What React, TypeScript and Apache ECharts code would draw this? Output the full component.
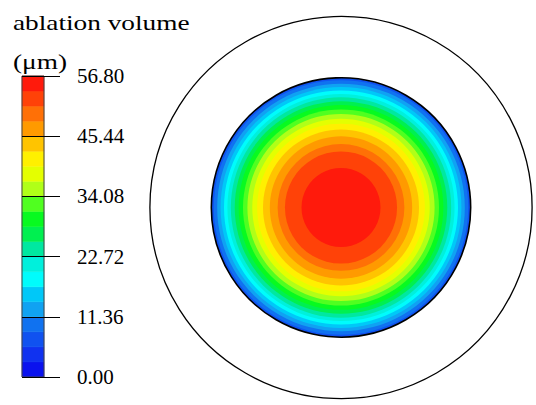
import React, { useEffect, useRef } from "react";
import * as echarts from "echarts";

// Colour scale (20 bands, low -> high)
const bandColors = [
  "#0a12ee", "#1032f0", "#1052f0", "#1072f0", "#10a2f2", "#00c8f8",
  "#00fcfc", "#00f0dc", "#00e8a0", "#00f050", "#08fa20", "#50ff20",
  "#b0ff18", "#e4ff00", "#fff000", "#ffc400", "#ff9a00", "#ff7006",
  "#ff4208", "#ff1a0c",
];
const scaleMin = 0;
const scaleMax = 56.8;
const tickStep = 11.36;
const titleLines = ["ablation volume", "(\u03bcm)"];

// Contour rings: band index and outer radius (disk radius = 133)
const ringBands = [2, 3, 4, 5, 6, 7, 8, 9, 10, 11, 12, 13, 14, 15, 16, 17, 18, 19];
const ringOuterRadius = [133, 130.5, 127, 123.5, 120, 116.5, 113, 109, 105, 100.5, 96, 91, 86, 80, 73, 65, 57.5, 40.5];
const diskRadius = 133;
const outerRadius = 196;

const serif = "Liberation Serif";

export default function App() {
  const ref = useRef<HTMLDivElement>(null);
  useEffect(() => {
    const chart = echarts.init(ref.current!, null, { renderer: "svg", width: 536, height: 405 });
    const step = (scaleMax - scaleMin) / bandColors.length;
    const barData = bandColors.map((_, i) => [scaleMin + i * step, scaleMin + (i + 1) * step, i]);
    const ringData = ringBands.map((b, i) => [ringOuterRadius[i], b]);
    const barUnits = 22;

    const option: any = {
      animation: false,
      backgroundColor: "#ffffff",
      grid: [
        { left: 22, top: 76, width: 38, height: 301 },
        { left: 146, top: 10, width: 400, height: 400 },
      ],
      xAxis: [
        { gridIndex: 0, type: "value", min: 0, max: 38, show: false },
        { gridIndex: 1, type: "value", min: -200, max: 200, show: false },
      ],
      yAxis: [
        {
          gridIndex: 0,
          type: "value",
          min: scaleMin,
          max: scaleMax,
          interval: tickStep,
          position: "right",
          z: 10,
          axisLine: { show: false },
          axisTick: { show: false },
          splitLine: { show: true, lineStyle: { color: "#000", width: 1.2 } },
          axisLabel: {
            margin: 17,
            color: "#000",
            fontFamily: serif,
            fontSize: 21,
            formatter: (v: number) => v.toFixed(2),
          },
        },
        { gridIndex: 1, type: "value", min: -200, max: 200, show: false },
      ],
      graphic: [
        {
          type: "text",
          x: 13,
          y: 23,
          scaleX: 1.3,
          style: {
            text: titleLines[0],
            fill: "#000",
            fontFamily: serif,
            fontSize: 21,
            verticalAlign: "middle",
          },
        },
        {
          type: "text",
          x: 13,
          y: 62,
          scaleX: 1.3,
          style: {
            text: titleLines[1],
            fill: "#000",
            fontFamily: serif,
            fontSize: 21,
            verticalAlign: "middle",
          },
        },
      ],
      series: [
        {
          type: "custom",
          xAxisIndex: 0,
          yAxisIndex: 0,
          z: 2,
          data: barData,
          renderItem: (_p: any, api: any) => {
            const lo = api.value(0);
            const hi = api.value(1);
            const idx = api.value(2);
            const a = api.coord([0, hi]);
            const b = api.coord([barUnits, lo]);
            return {
              type: "rect",
              shape: { x: a[0], y: a[1], width: b[0] - a[0], height: b[1] - a[1] },
              style: { fill: bandColors[idx], stroke: bandColors[idx], lineWidth: 0.5 },
            };
          },
        },
        {
          type: "custom",
          xAxisIndex: 0,
          yAxisIndex: 0,
          z: 3,
          data: [[scaleMin, scaleMax]],
          renderItem: (_p: any, api: any) => {
            const a = api.coord([0, api.value(1)]);
            const b = api.coord([barUnits, api.value(0)]);
            return {
              type: "rect",
              shape: { x: a[0], y: a[1], width: b[0] - a[0], height: b[1] - a[1] },
              style: { fill: "none", stroke: "#444", lineWidth: 1 },
            };
          },
        },
        {
          type: "custom",
          xAxisIndex: 1,
          yAxisIndex: 1,
          clip: false,
          data: ringData,
          renderItem: (_p: any, api: any) => {
            const c = api.coord([0, 0]);
            const r = api.size([api.value(0), 0])[0];
            return {
              type: "circle",
              shape: { cx: c[0], cy: c[1], r },
              style: { fill: bandColors[api.value(1)] },
            };
          },
        },
        {
          type: "custom",
          xAxisIndex: 1,
          yAxisIndex: 1,
          clip: false,
          data: [[diskRadius, 1.6], [outerRadius, 1.3]],
          renderItem: (_p: any, api: any) => {
            const c = api.coord([0, 0]);
            const r = api.size([api.value(0), 0])[0];
            return {
              type: "circle",
              shape: { cx: c[0], cy: c[1], r },
              style: { fill: "none", stroke: "#000", lineWidth: api.value(1) },
            };
          },
        },
      ],
    };
    chart.setOption(option);
    return () => chart.dispose();
  }, []);
  return (
    <div
      ref={ref}
      style={{ position: "fixed", left: 0, top: 0, width: 536, height: 405, background: "#fff" }}
    />
  );
}
